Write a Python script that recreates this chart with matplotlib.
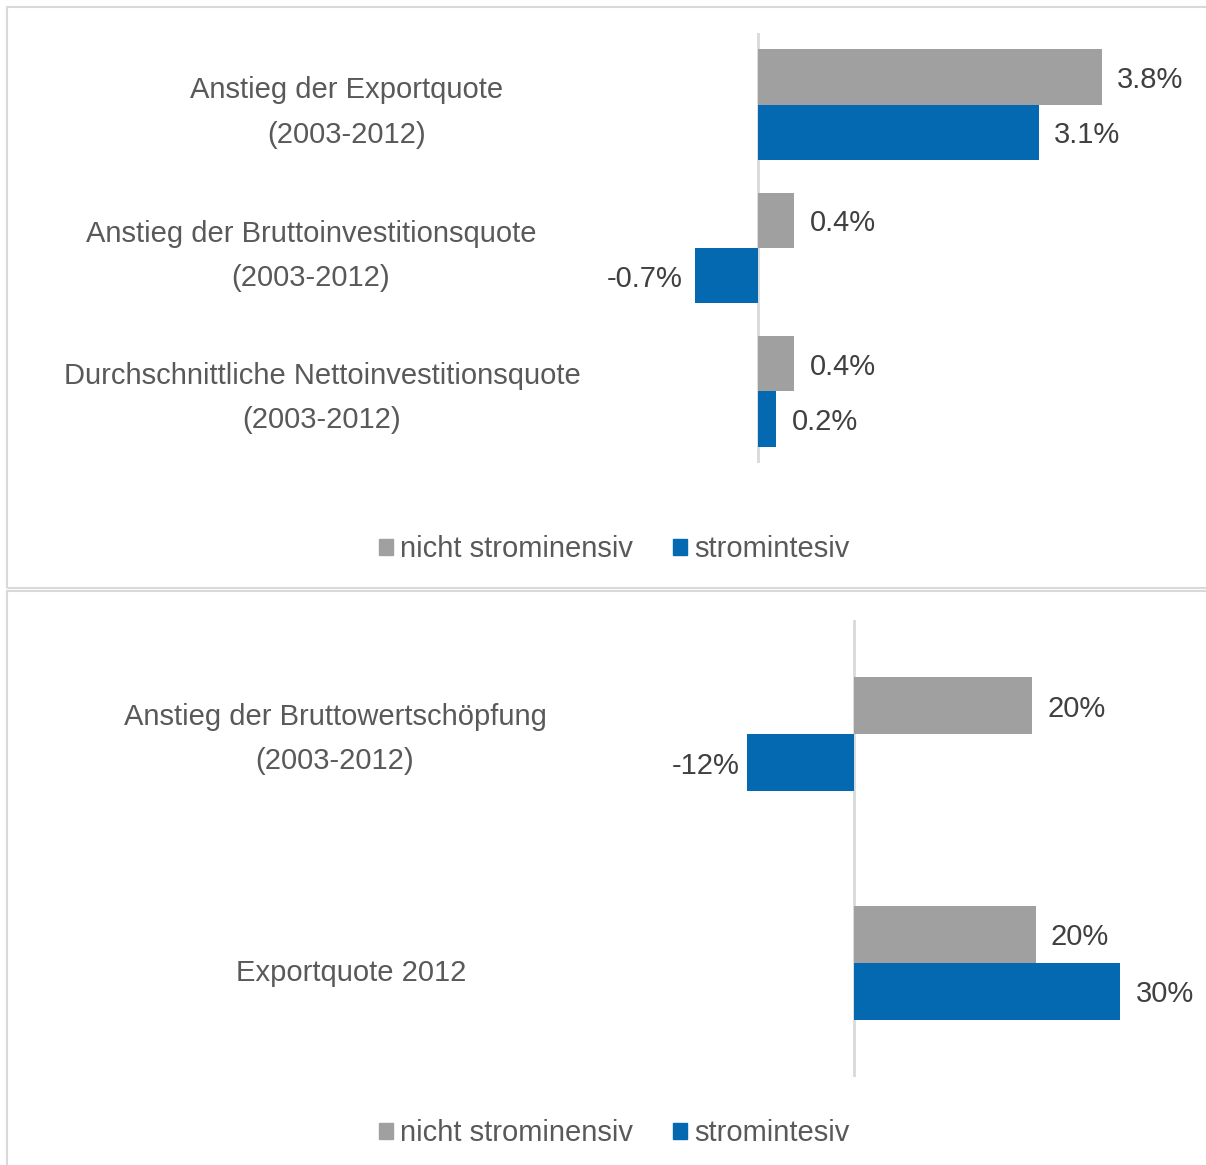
import matplotlib.pyplot as plt
import matplotlib.transforms as mtransforms
from matplotlib.patches import Rectangle, Patch

# Daten oberes Diagramm (Prozentpunkte)
cats_top = ['Anstieg der Exportquote\n(2003-2012)',
            'Anstieg der Bruttoinvestitionsquote\n(2003-2012)',
            'Durchschnittliche Nettoinvestitionsquote\n(2003-2012)']
nicht_top = [3.8, 0.4, 0.4]
intens_top = [3.1, -0.7, 0.2]

# Daten unteres Diagramm (%)
cats_bot = ['Anstieg der Bruttowertschöpfung\n(2003-2012)',
            'Exportquote 2012']
nicht_bot = [20.0, 20.4]
intens_bot = [-12.0, 29.9]

series_names = ['nicht strominensiv', 'stromintesiv']
GRAU = '#a0a0a0'
BLAU = '#0569b2'
TXT = '#595959'
LBL = '#404040'
LINIE = '#d9d9d9'

plt.rcParams['font.family'] = ['Liberation Sans', 'DejaVu Sans']
FS = 21

W, H = 1206, 1165
fig = plt.figure(figsize=(W / 100, H / 100), dpi=100)


def px_axes(left, top, right, bottom):
    return fig.add_axes([left / W, 1 - bottom / H, (right - left) / W, (bottom - top) / H])


def panel(ax, cats, a, b, zero_px, px_per_unit, left_px, right_px, bar_h, label_x, label_dy,
          fmt, neg_pad):
    ax.set_xlim((left_px - zero_px) / px_per_unit, (right_px - zero_px) / px_per_unit)
    n = len(cats)
    ax.set_ylim(n - 0.5, -0.5)
    pos = list(range(n))
    b1 = ax.barh([p - bar_h / 2 for p in pos], a, height=bar_h, color=GRAU)
    b2 = ax.barh([p + bar_h / 2 for p in pos], b, height=bar_h, color=BLAU)
    for cont, vals in ((b1, a), (b2, b)):
        anns = ax.bar_label(cont, labels=[fmt(v) for v in vals], padding=11,
                            fontsize=FS, color=LBL)
        for t, v in zip(anns, vals):
            dx = 11.0 if v >= 0 else -neg_pad
            t.xyann = (dx, -2.2)
    ax.axvline(0, color=LINIE, lw=2, zorder=0)
    for s in ax.spines.values():
        s.set_visible(False)
    ax.set_xticks([])
    ax.set_yticks([])
    trans = mtransforms.blended_transform_factory(fig.transFigure, ax.transData)
    for i, c in enumerate(cats):
        ax.text(label_x[i] / W, i + label_dy[i], c, transform=trans, ha='center', va='center',
                fontsize=FS, color=TXT, linespacing=1.75, multialignment='center')


ax1 = px_axes(560, 33, 1195, 463)
panel(ax1, cats_top, nicht_top, intens_top, 758, 90.5, 560, 1195, 0.385,
      [347, 311, 322], [0.055, 0.055, 0.045], lambda v: f'{v:.1f}%', 8.5)

ax2 = px_axes(560, 620, 1195, 1077)
panel(ax2, cats_bot, nicht_bot, intens_bot, 854, 8.9, 560, 1195, 0.25,
      [335, 351], [0.02, 0.045], lambda v: f'{v:.0f}%', 5.5)

# Legenden
for y in (549, 1133):
    fig.legend([Patch(color=GRAU), Patch(color=BLAU)], series_names, loc='center',
               bbox_to_anchor=(614 / W, 1 - y / H), ncol=2, frameon=False, fontsize=FS,
               labelcolor=TXT, handlelength=0.48, handleheight=0.48, handletextpad=0.25,
               columnspacing=1.35, borderpad=0)

# Rahmen der beiden Diagrammflächen
for top, bottom in ((7, 588), (591, 1175)):
    fig.add_artist(Rectangle((7 / W, 1 - bottom / H), (W + 10) / W, (bottom - top) / H,
                             transform=fig.transFigure, fill=False, ec=LINIE, lw=1.5))

fig.savefig('out.png', dpi=100)
